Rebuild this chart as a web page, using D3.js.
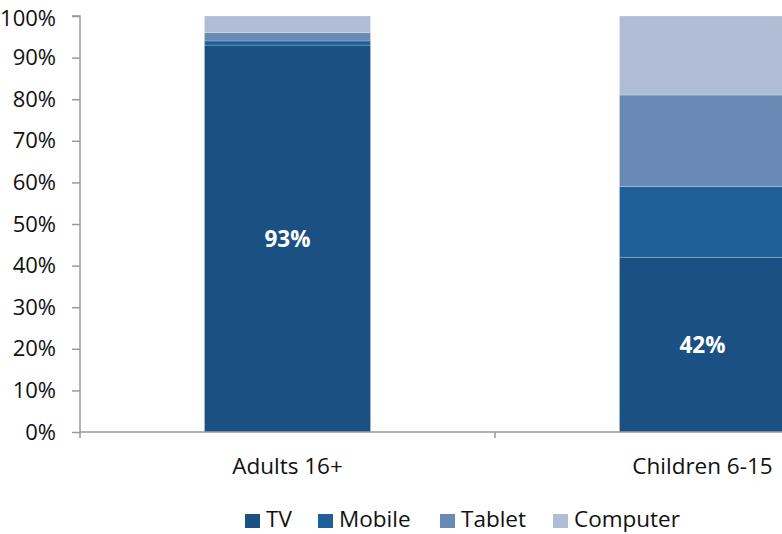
<!DOCTYPE html>
<html>
<head>
<meta charset="utf-8">
<script src="https://cdn.jsdelivr.net/npm/d3@7"></script>
<style>
  html, body { margin: 0; padding: 0; background: #fff; }
  svg { display: block; font-family: "Open Sans", Lato, sans-serif; }
</style>
</head>
<body>
<svg id="chart" width="782" height="534"></svg>
<script>
// Share of viewing by device, per age group (percent)
const categories = ["Adults 16+", "Children 6-15"];
const devices = ["TV", "Mobile", "Tablet", "Computer"];
const tvValues = [93, 42];
const mobileValues = [1, 17];
const tabletValues = [2, 22];
const computerValues = [4, 19];
const yTicks = [0, 10, 20, 30, 40, 50, 60, 70, 80, 90, 100];
const colors = ["#1b5083", "#1f6098", "#6a8ab6", "#b0bdd5"];

const rows = categories.map((c, i) => ({
  category: c,
  TV: tvValues[i], Mobile: mobileValues[i], Tablet: tabletValues[i], Computer: computerValues[i]
}));

const FONT = "'Open Sans', Lato, sans-serif";
const FS = 22.5;

const svg = d3.select("#chart");
const margin = { left: 80, top: 16 };
const plotH = 416;
const plotW = 830; // full category band extends past the right edge

const x = d3.scaleBand().domain(categories).range([margin.left, margin.left + plotW]).paddingInner(0.6).paddingOuter(0.3);
const y = d3.scaleLinear().domain([0, 100]).range([margin.top + plotH, margin.top]);
const color = d3.scaleOrdinal().domain(devices).range(colors);

const stack = d3.stack().keys(devices)(rows);

// Bars
svg.append("g").selectAll("g").data(stack).join("g")
  .attr("fill", d => color(d.key))
  .selectAll("rect").data(d => d).join("rect")
  .attr("x", d => x(d.data.category))
  .attr("width", x.bandwidth())
  .attr("y", d => y(d[1]))
  .attr("height", d => y(d[0]) - y(d[1]))
  .attr("stroke", "rgba(255,255,255,0.25)")
  .attr("stroke-width", 0.75);

// TV value labels
svg.append("g").selectAll("text").data(stack[0]).join("text")
  .attr("x", d => x(d.data.category) + x.bandwidth() / 2)
  .attr("y", d => (y(d[0]) + y(d[1])) / 2)
  .attr("dy", "0.36em")
  .attr("text-anchor", "middle")
  .attr("fill", "#fff")
  .attr("font-weight", "bold")
  .attr("font-size", FS)
  .text(d => d.data.TV + "%");

// Y axis
const yAxis = svg.append("g")
  .attr("transform", `translate(${margin.left},0)`)
  .call(d3.axisLeft(y).tickValues(yTicks).tickFormat(d => d + "%").tickSize(8).tickPadding(16));
yAxis.selectAll("path, line").attr("stroke", "#999").attr("stroke-width", 1.5);
yAxis.select(".domain").attr("d", `M-8,${y(100)}H0V${y(0)}`);
yAxis.selectAll("text").attr("font-size", 22).attr("fill", "#111").attr("font-family", FONT);
// keep the top label inside the canvas
yAxis.selectAll(".tick").filter(d => d === 100).select("text").attr("dy", "0.45em");

// X axis
const xAxisG = svg.append("g").attr("transform", `translate(0,${y(0)})`);
xAxisG.append("line").attr("x1", margin.left).attr("x2", margin.left + plotW).attr("stroke", "#999").attr("stroke-width", 1.5);
const step = x.step();
const boundaries = d3.range(categories.length + 1).map(i => margin.left + i * step);
xAxisG.selectAll("line.tick").data(boundaries).join("line")
  .attr("class", "tick")
  .attr("x1", d => d).attr("x2", d => d).attr("y1", 0).attr("y2", 6)
  .attr("stroke", "#999").attr("stroke-width", 1.5);
xAxisG.selectAll("text").data(categories).join("text")
  .attr("x", d => x(d) + x.bandwidth() / 2)
  .attr("y", 42)
  .attr("text-anchor", "middle")
  .attr("font-size", FS)
  .attr("fill", "#111")
  .text(d => d);

// Legend
const legendX = [245, 318, 440, 553];
const legend = svg.append("g").selectAll("g").data(devices).join("g")
  .attr("transform", (d, i) => `translate(${legendX[i]},527)`);
legend.append("rect").attr("x", 0).attr("y", -13).attr("width", 15).attr("height", 14).attr("fill", d => color(d));
legend.append("text").attr("x", 21).attr("font-size", FS).attr("fill", "#111").text(d => d);
</script>
</body>
</html>
